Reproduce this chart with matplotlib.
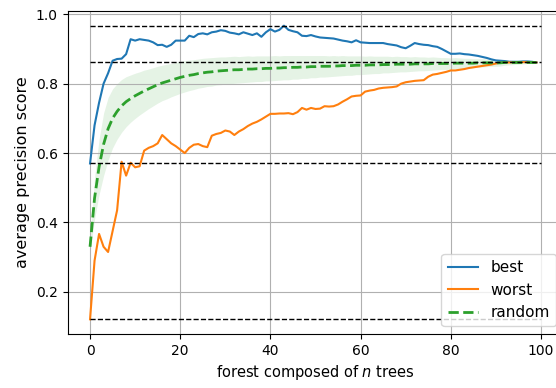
import numpy as np
import matplotlib
matplotlib.use('Agg')
import matplotlib.pyplot as plt

# number of trees in the forest (index)
n_trees = list(range(100))

best = [0.570, 0.680, 0.745, 0.800, 0.830, 0.866, 0.871, 0.872, 0.885, 0.928,
        0.924, 0.928, 0.926, 0.924, 0.919, 0.911, 0.912, 0.906, 0.912, 0.924,
        0.924, 0.924, 0.938, 0.934, 0.943, 0.945, 0.942, 0.948, 0.950, 0.954,
        0.952, 0.947, 0.945, 0.942, 0.948, 0.944, 0.940, 0.945, 0.935, 0.948,
        0.957, 0.950, 0.955, 0.967, 0.955, 0.951, 0.948, 0.938, 0.937, 0.940,
        0.936, 0.933, 0.932, 0.931, 0.930, 0.927, 0.924, 0.922, 0.919, 0.925,
        0.919, 0.918, 0.917, 0.917, 0.917, 0.917, 0.914, 0.912, 0.910, 0.905,
        0.902, 0.909, 0.917, 0.914, 0.912, 0.911, 0.908, 0.906, 0.900, 0.893,
        0.886, 0.886, 0.887, 0.885, 0.884, 0.882, 0.880, 0.877, 0.874, 0.870,
        0.867, 0.866, 0.865, 0.863, 0.863, 0.863, 0.864, 0.864, 0.863, 0.861]

worst = [0.121, 0.290, 0.367, 0.330, 0.315, 0.375, 0.435, 0.575, 0.535, 0.572,
         0.559, 0.562, 0.607, 0.615, 0.620, 0.628, 0.652, 0.640, 0.628, 0.620,
         0.610, 0.600, 0.615, 0.624, 0.626, 0.620, 0.617, 0.650, 0.655, 0.658,
         0.665, 0.662, 0.652, 0.662, 0.669, 0.678, 0.685, 0.690, 0.697, 0.705,
         0.713, 0.713, 0.714, 0.714, 0.715, 0.712, 0.718, 0.730, 0.725, 0.730,
         0.727, 0.728, 0.735, 0.734, 0.735, 0.740, 0.748, 0.755, 0.763, 0.765,
         0.766, 0.777, 0.780, 0.782, 0.786, 0.788, 0.789, 0.790, 0.792, 0.800,
         0.804, 0.806, 0.808, 0.809, 0.810, 0.820, 0.826, 0.828, 0.831, 0.834,
         0.838, 0.838, 0.840, 0.842, 0.845, 0.847, 0.849, 0.851, 0.853, 0.855,
         0.858, 0.860, 0.861, 0.861, 0.862, 0.862, 0.862, 0.862, 0.862, 0.861]

random_mean = [0.330, 0.470, 0.560, 0.625, 0.670, 0.700, 0.720, 0.736, 0.748, 0.757,
               0.765, 0.772, 0.779, 0.785, 0.791, 0.797, 0.802, 0.806, 0.810, 0.814,
               0.818, 0.821, 0.824, 0.826, 0.829, 0.831, 0.833, 0.834, 0.836, 0.837,
               0.838, 0.839, 0.840, 0.840, 0.841, 0.842, 0.842, 0.843, 0.843, 0.844,
               0.844, 0.845, 0.845, 0.846, 0.846, 0.847, 0.847, 0.848, 0.848, 0.849,
               0.849, 0.850, 0.850, 0.850, 0.851, 0.851, 0.852, 0.852, 0.852, 0.853,
               0.853, 0.853, 0.854, 0.854, 0.854, 0.855, 0.855, 0.855, 0.856, 0.856,
               0.856, 0.856, 0.857, 0.857, 0.857, 0.857, 0.858, 0.858, 0.858, 0.858,
               0.858, 0.859, 0.859, 0.859, 0.859, 0.859, 0.860, 0.860, 0.860, 0.860,
               0.860, 0.860, 0.861, 0.861, 0.861, 0.861, 0.861, 0.861, 0.861, 0.861]

random_std = [0.015, 0.060, 0.080, 0.090, 0.090, 0.085, 0.080, 0.076, 0.072, 0.068,
              0.065, 0.062, 0.060, 0.057, 0.055, 0.053, 0.051, 0.050, 0.048, 0.047,
              0.046, 0.045, 0.044, 0.043, 0.042, 0.042, 0.041, 0.041, 0.040, 0.040,
              0.039, 0.039, 0.039, 0.038, 0.038, 0.038, 0.037, 0.037, 0.037, 0.036,
              0.036, 0.036, 0.035, 0.035, 0.035, 0.034, 0.034, 0.033, 0.033, 0.032,
              0.032, 0.031, 0.031, 0.030, 0.030, 0.029, 0.029, 0.028, 0.028, 0.027,
              0.027, 0.026, 0.026, 0.025, 0.025, 0.024, 0.024, 0.023, 0.023, 0.022,
              0.022, 0.021, 0.021, 0.020, 0.020, 0.019, 0.019, 0.018, 0.017, 0.017,
              0.016, 0.016, 0.015, 0.014, 0.014, 0.013, 0.012, 0.012, 0.011, 0.010,
              0.010, 0.009, 0.008, 0.007, 0.006, 0.005, 0.004, 0.003, 0.002, 0.001]

# reference levels (max best, final score, first best, first worst)
ref_levels = [0.967, 0.861, 0.570, 0.121]

dpi = 100
fig = plt.figure(figsize=(556 / dpi, 388 / dpi), dpi=dpi)
ax = fig.add_axes([67.5 / 556, 54 / 388, 496 / 556, 323 / 388])

mean = np.array(random_mean)
std = np.array(random_std)

ax.plot(n_trees, best, label='best')
ax.plot(n_trees, worst, label='worst')
ax.plot(n_trees, mean, '--', color='C2', linewidth=2, label='random')
ax.fill_between(n_trees, mean - std, mean + std, color='C2', alpha=0.12, linewidth=0)
ax.hlines(ref_levels, 0, 100, colors='k', linestyles='--', linewidth=1)

ax.set_xlabel('forest composed of $n$ trees', fontsize=10.5)
ax.set_ylabel('average precision score', fontsize=11.5)
ax.grid()
ax.legend(loc='lower right', fontsize=11)

plt.savefig('out.png', dpi=dpi)
plt.close()
